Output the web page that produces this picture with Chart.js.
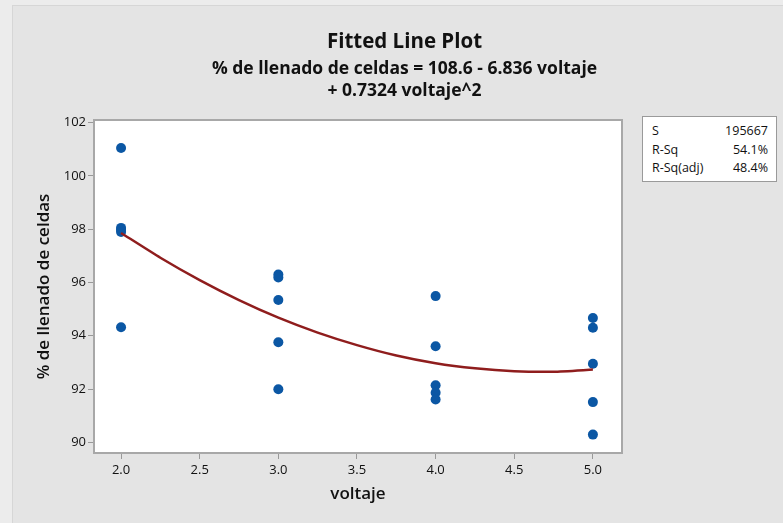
<!DOCTYPE html>
<html lang="es">
<head>
    <meta charset="UTF-8">
    <title>Fitted Line Plot</title>
    <style>
        body {
            margin: 0;
            background-color: #ececec;
            font-family: "Open Sans", sans-serif;
            color: #111;
        }
        #panel {
            position: absolute;
            left: 12px;
            top: 5px;
            width: 771px;
            height: 518px;
            background-color: #e4e4e4;
            border-top: 1px solid #d6d6d6;
            border-left: 1px solid #d6d6d6;
        }
        #chart {
            position: absolute;
            left: 0;
            top: 0;
        }
        .title-line {
            position: absolute;
            left: 26px;
            right: 0;
            text-align: center;
            font-weight: 700;
            white-space: nowrap;
        }
        #title { top: 28px; font-size: 20.5px; line-height: 24px; }
        #sub1 { top: 57px; font-size: 17.5px; line-height: 20px; }
        #sub2 { top: 79px; font-size: 17.5px; line-height: 20px; }
        #stats {
            position: absolute;
            left: 642px;
            top: 116px;
            width: 135px;
            height: 66px;
            box-sizing: border-box;
            background-color: #fff;
            border: 1px solid #9a9a9a;
            padding: 5px 8px 0 9px;
            font-size: 12.5px;
            line-height: 18.5px;
        }
        #stats div {
            display: flex;
            justify-content: space-between;
        }
    </style>
    <script src="https://cdn.jsdelivr.net/npm/chart.js"></script>
</head>
<body>
    <div id="panel"></div>
    <canvas id="chart" width="783" height="523"></canvas>
    <div class="title-line" id="title">Fitted Line Plot</div>
    <div class="title-line" id="sub1">% de llenado de celdas = 108.6 - 6.836 voltaje</div>
    <div class="title-line" id="sub2">+ 0.7324 voltaje^2</div>
    <div id="stats">
        <div><span>S</span><span>195667</span></div>
        <div><span>R-Sq</span><span>54.1%</span></div>
        <div><span>R-Sq(adj)</span><span>48.4%</span></div>
    </div>

    <script>
        // observed points
        const voltaje = [2, 2, 2, 2, 2, 3, 3, 3, 3, 3, 4, 4, 4, 4, 4, 5, 5, 5, 5, 5];
        const llenado = [101.05, 98.05, 97.98, 97.9, 94.32,
                         96.3, 96.19, 95.34, 93.76, 91.99,
                         95.49, 93.61, 92.14, 91.86, 91.61,
                         94.67, 94.3, 92.95, 91.51, 90.29];

        // fitted line
        const fitVoltaje = [2, 2.25, 2.5, 2.75, 3, 3.25, 3.5, 3.75, 4, 4.25, 4.5, 4.75, 5];
        const fitLlenado = [97.86, 96.93, 96.09, 95.34, 94.68, 94.12, 93.65, 93.26, 92.97, 92.78, 92.67, 92.65, 92.73];

        const xTicks = [2.0, 2.5, 3.0, 3.5, 4.0, 4.5, 5.0];
        const yTicks = [90, 92, 94, 96, 98, 100, 102];

        const points = voltaje.map((v, i) => ({ x: v, y: llenado[i] }));
        const fit = fitVoltaje.map((v, i) => ({ x: v, y: fitLlenado[i] }));

        // white plot area with a grey frame
        const plotFrame = {
            id: 'plotFrame',
            beforeDatasetsDraw(chart) {
                const { ctx, chartArea: a } = chart;
                ctx.save();
                ctx.fillStyle = '#fff';
                ctx.fillRect(a.left, a.top, a.right - a.left, a.bottom - a.top);
                ctx.strokeStyle = '#a8a8a8';
                ctx.lineWidth = 2;
                ctx.strokeRect(a.left, a.top, a.right - a.left, a.bottom - a.top);
                ctx.restore();
            }
        };

        const tickFont = { family: 'Open Sans', size: 13 };
        const axisTitleFont = { family: 'Open Sans', size: 17, weight: '600' };

        new Chart(document.getElementById('chart'), {
            type: 'scatter',
            data: {
                datasets: [
                    {
                        type: 'line',
                        data: fit,
                        borderColor: '#8f1d1d',
                        borderWidth: 2.5,
                        pointRadius: 0,
                        tension: 0.2,
                        fill: false
                    },
                    {
                        data: points,
                        backgroundColor: '#0b57a4',
                        borderWidth: 0,
                        pointRadius: 5,
                        pointHoverRadius: 5
                    }
                ]
            },
            options: {
                responsive: false,
                animation: false,
                layout: { padding: { top: 120, right: 161, left: 0, bottom: 0 } },
                plugins: {
                    legend: { display: false },
                    tooltip: { enabled: false }
                },
                scales: {
                    x: {
                        type: 'linear',
                        min: 1.828,
                        max: 5.185,
                        afterBuildTicks: s => { s.ticks = xTicks.map(v => ({ value: v })); },
                        afterFit: s => { s.height = 70; },
                        grid: { drawOnChartArea: false, color: '#999', tickLength: 6 },
                        border: { display: false },
                        ticks: {
                            font: tickFont,
                            color: '#111',
                            padding: 3,
                            callback: v => v.toFixed(1)
                        },
                        title: {
                            display: true,
                            text: 'voltaje',
                            font: axisTitleFont,
                            color: '#111',
                            padding: { top: 0, bottom: 19 }
                        }
                    },
                    y: {
                        min: 89.6,
                        max: 102.1,
                        afterBuildTicks: s => { s.ticks = yTicks.map(v => ({ value: v })); },
                        afterFit: s => { s.width = 94; },
                        grid: { drawOnChartArea: false, color: '#999', tickLength: 6 },
                        border: { display: false },
                        ticks: {
                            font: tickFont,
                            color: '#111',
                            padding: 2
                        },
                        title: {
                            display: true,
                            text: '% de llenado de celdas',
                            font: axisTitleFont,
                            color: '#111',
                            padding: { top: 34, bottom: 0 }
                        }
                    }
                }
            },
            plugins: [plotFrame]
        });
    </script>
</body>
</html>
